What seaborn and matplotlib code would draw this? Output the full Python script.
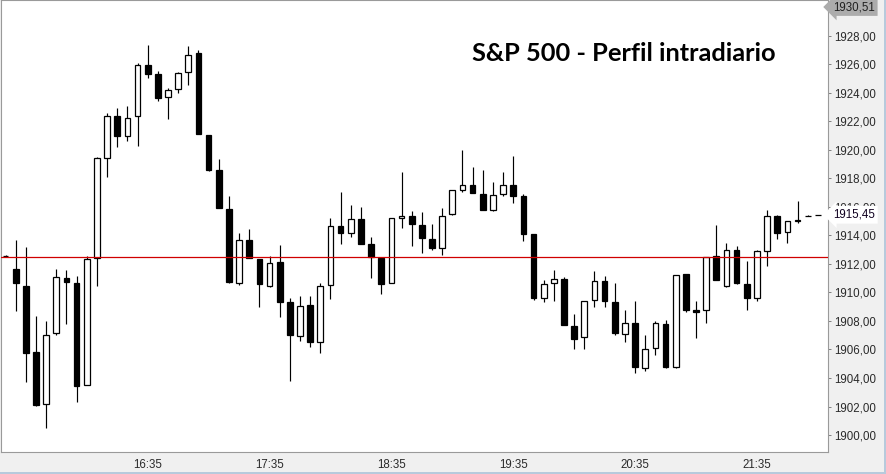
import numpy as np
import pandas as pd
import matplotlib
matplotlib.use("Agg")
import matplotlib.pyplot as plt
from matplotlib.patches import Rectangle
import seaborn as sns

# 5-minute candles (first candle at 15:25)
opens = [1912.55, 1911.64, 1910.47, 1905.81, 1902.15, 1907.14, 1911.01, 1910.66, 1903.49, 1912.44,
         1919.45, 1922.40, 1920.97, 1922.37, 1925.94, 1925.29, 1923.74, 1924.30, 1925.43, 1926.78,
         1921.02, 1918.56, 1915.88, 1910.63, 1913.70, 1912.37, 1910.45, 1912.14, 1909.32, 1906.93,
         1909.13, 1906.51, 1910.49, 1914.67, 1914.17, 1915.16, 1913.40, 1912.42, 1910.66, 1915.23,
         1915.37, 1914.74, 1913.75, 1913.12, 1915.48, 1917.20, 1917.55, 1916.92, 1915.79, 1916.92,
         1917.55, 1916.78, 1914.10, 1909.60, 1910.66, 1910.94, 1907.63, 1906.86, 1909.46, 1910.80,
         1909.32, 1907.07, 1907.85, 1904.72, 1906.09, 1907.78, 1904.79, 1911.31, 1908.76, 1908.76,
         1912.56, 1910.45, 1912.98, 1910.59, 1909.60, 1912.91, 1915.37, 1914.24, 1915.02, 1915.35,
         1915.45]
highs = [1912.60, 1913.70, 1913.21, 1908.36, 1908.01, 1911.66, 1911.59, 1911.17, 1912.58, 1919.52,
         1922.61, 1922.92, 1923.06, 1926.08, 1927.35, 1925.52, 1924.37, 1925.45, 1927.28, 1926.99,
         1921.02, 1919.33, 1916.73, 1914.17, 1914.48, 1912.37, 1912.58, 1913.35, 1909.60, 1909.72,
         1909.72, 1910.68, 1915.23, 1917.03, 1916.16, 1916.02, 1913.91, 1912.46, 1915.23, 1918.42,
         1915.74, 1915.67, 1914.83, 1915.93, 1917.20, 1919.96, 1918.77, 1918.56, 1917.76, 1918.42,
         1919.54, 1916.92, 1914.10, 1910.87, 1911.59, 1911.08, 1908.50, 1909.41, 1911.52, 1911.17,
         1910.68, 1908.76, 1909.41, 1907.00, 1907.99, 1908.06, 1911.22, 1911.31, 1909.41, 1912.49,
         1914.74, 1913.47, 1913.26, 1912.21, 1912.98, 1915.76, 1915.44, 1915.02, 1916.38, 1915.44,
         1915.45]
lows = [1912.50, 1908.73, 1903.74, 1902.03, 1900.50, 1907.04, 1907.80, 1902.33, 1903.49, 1910.42,
        1918.08, 1920.19, 1920.62, 1920.26, 1925.03, 1923.43, 1922.19, 1923.99, 1924.55, 1921.11,
        1918.51, 1915.90, 1910.63, 1910.54, 1912.42, 1909.01, 1910.38, 1908.31, 1903.81, 1906.62,
        1906.20, 1905.78, 1909.55, 1913.42, 1913.87, 1913.38, 1910.98, 1909.86, 1910.66, 1914.50,
        1913.23, 1912.74, 1912.95, 1912.60, 1915.44, 1917.03, 1916.99, 1915.79, 1915.69, 1916.78,
        1916.28, 1913.58, 1909.46, 1909.36, 1909.41, 1907.70, 1906.06, 1906.06, 1908.97, 1909.01,
        1907.00, 1906.51, 1904.37, 1904.51, 1905.59, 1904.72, 1904.72, 1908.66, 1906.83, 1907.85,
        1910.87, 1910.38, 1910.56, 1908.76, 1909.39, 1911.83, 1913.75, 1913.47, 1914.88, 1915.35,
        1915.45]
closes = [1912.55, 1910.63, 1905.78, 1902.10, 1907.00, 1911.08, 1910.70, 1903.46, 1912.35, 1919.45,
          1922.40, 1920.97, 1922.26, 1925.92, 1925.31, 1923.64, 1924.18, 1925.36, 1926.62, 1921.11,
          1918.58, 1915.95, 1910.70, 1913.70, 1912.42, 1910.56, 1912.07, 1909.36, 1907.04, 1909.06,
          1906.51, 1910.47, 1914.67, 1914.15, 1915.16, 1913.38, 1912.51, 1910.56, 1915.23, 1915.37,
          1914.78, 1913.80, 1913.12, 1915.37, 1917.20, 1917.55, 1916.99, 1915.79, 1916.85, 1917.55,
          1916.78, 1914.08, 1909.58, 1910.59, 1910.94, 1907.70, 1906.76, 1909.41, 1910.80, 1909.43,
          1907.14, 1907.85, 1904.79, 1906.06, 1907.85, 1904.79, 1911.22, 1908.76, 1908.62, 1912.49,
          1910.87, 1912.98, 1910.63, 1909.60, 1912.91, 1915.37, 1914.17, 1915.02, 1915.08, 1915.35,
          1915.45]

tick_labels = ["16:35", "17:35", "18:35", "19:35", "20:35", "21:35"]
y_ticks = list(range(1900, 1929, 2))
ref_level = 1912.5
last_price = 1915.45
top_price = 1930.51
title = "S&P 500 - Perfil intradiario"

times = pd.date_range("2014-06-10 15:25", periods=len(opens), freq="5min").strftime("%H:%M")
df = pd.DataFrame({"time": times, "open": opens, "high": highs, "low": lows, "close": closes})
df["x"] = np.arange(len(df))
df["up"] = df["close"] >= df["open"]

sns.set_style("white")
plt.rcParams["font.family"] = ["Liberation Sans", "DejaVu Sans"]

fig = plt.figure(figsize=(8.86, 4.74), dpi=100, facecolor="#f0f0f0")
ax = fig.add_axes([1 / 886, 1 - 451.7 / 474, 827 / 886, 451.7 / 474])
ax.set_facecolor("white")

# wicks then bodies
ax.vlines(df["x"], df["low"], df["high"], color="black", lw=0.85, zorder=2)
ax.bar(df["x"], (df["close"] - df["open"]).abs(), bottom=df[["open", "close"]].min(axis=1),
       width=0.56, color=np.where(df["up"], "white", "black"), edgecolor="black",
       linewidth=0.9, zorder=3)

ax.axhline(ref_level, color="#d00000", lw=0.9, zorder=4)

ax.set_xlim(-0.45, len(df) + 0.0)
ax.set_ylim(1898.83, top_price)

pos = [i for i, t in enumerate(df["time"]) if t in tick_labels]
ax.set_xticks(pos)
ax.set_xticklabels([df["time"][i] for i in pos])
ax.yaxis.tick_right()
ax.set_yticks(y_ticks)
ax.set_yticklabels([f"{v:.2f}".replace(".", ",") for v in y_ticks])
ax.tick_params(axis="both", length=2.5, width=0.7, color="#808080", labelsize=8.3,
               labelcolor="#2a2a2a", pad=2)
ax.tick_params(axis="x", pad=3)
ax.grid(False)
for s in ax.spines.values():
    s.set_color("#9a9a9a")
    s.set_linewidth(0.8)

ax.text(1.006, last_price, "1915,45", transform=ax.get_yaxis_transform(), va="center", ha="left",
        fontsize=8.3, color="#100020", zorder=10, clip_on=False,
        bbox=dict(boxstyle="larrow,pad=0.25", fc="white", ec="none"))
ax.text(1.006, 1 - 7 / 451.7, f"{top_price:.2f}".replace(".", ","), transform=ax.transAxes,
        va="center", ha="left", fontsize=8.3, color="#202020", zorder=10, clip_on=False,
        bbox=dict(boxstyle="larrow,pad=0.25", fc="#acacac", ec="none"))

fig.text(472 / 886, 1 - 61 / 474, title, family="Lato", fontweight="bold", fontsize=18.3,
         color="black", va="baseline", ha="left")

fig.add_artist(Rectangle((0, 0), 1, 2.5 / 474, transform=fig.transFigure, fc="#b7cadc", ec="none"))
fig.add_artist(Rectangle((1 - 2.5 / 886, 0), 2.5 / 886, 1, transform=fig.transFigure, fc="#b7cadc", ec="none"))

fig.savefig("out.png", dpi=100, facecolor=fig.get_facecolor())
